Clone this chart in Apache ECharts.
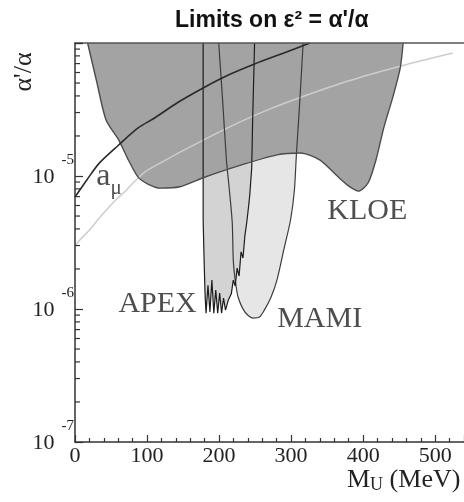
<!DOCTYPE html>
<html>
<head>
<meta charset="utf-8">
<script src="https://cdn.jsdelivr.net/npm/echarts@6/dist/echarts.min.js"></script>
<style>
html, body { margin: 0; padding: 0; background: #fff; }
#chart { width: 464px; height: 502px; }
</style>
</head>
<body>
<div id="chart"></div>
<script>
// axis ticks
var massTicks = [0, 100, 200, 300, 400, 500];
var decades = [-7, -6, -5, -4];
var labelledDecades = [-7, -6, -5];

// KLOE exclusion (excluded above the curve)
var kloeMass  = [17.5, 29.6, 43.1, 60.6, 74.1, 87.6, 101.1, 118.6, 145.6, 177.9, 222.4, 280.3, 312.7, 339.6, 366.6, 380.1, 393.5, 407.0, 417.8, 428.6, 442.0, 451.5, 455.5];
var kloeLimit = [1.0e-4, 5.27e-5, 2.64e-5, 1.87e-5, 1.32e-5, 9.8e-6, 8.7e-6, 8.1e-6, 8.3e-6, 9.7e-6, 1.17e-5, 1.44e-5, 1.49e-5, 1.32e-5, 9.7e-6, 8.4e-6, 7.7e-6, 8.9e-6, 1.32e-5, 2.30e-5, 4.06e-5, 6.49e-5, 1.0e-4];

// MAMI exclusion
var mamiMass  = [199.5, 204.9, 210.2, 214.3, 218.3, 219.7, 222.4, 226.4, 235.8, 246.6, 256.1, 262.8, 272.2, 280.3, 289.8, 299.2, 304.6, 307.3, 311.3, 316.7];
var mamiLimit = [1.0e-4, 3.72e-5, 1.32e-5, 7.85e-6, 4.44e-6, 2.33e-6, 1.65e-6, 1.23e-6, 9.5e-7, 8.55e-7, 8.7e-7, 9.8e-7, 1.23e-6, 1.65e-6, 2.78e-6, 4.67e-6, 7.85e-6, 1.44e-5, 3.13e-5, 1.0e-4];

// APEX test run exclusion (spiky)
var apexMass  = [177.9, 177.9, 179.2, 180.6, 181.9, 184.6, 187.3, 190.0, 192.7, 195.4, 198.1, 200.8, 203.5, 206.2, 208.9, 212.9, 217.0, 219.7, 222.4, 225.1, 227.8, 230.5, 233.2, 235.8, 238.5, 241.2, 242.6, 245.3, 246.6, 249.3];
var apexLimit = [1.0e-4, 4.67e-6, 2.33e-6, 1.27e-6, 9.3e-7, 1.51e-6, 9.5e-7, 1.65e-6, 9.3e-7, 1.39e-6, 9.3e-7, 1.32e-6, 9.3e-7, 1.21e-6, 9.8e-7, 1.17e-6, 1.30e-6, 1.65e-6, 1.49e-6, 2.03e-6, 1.77e-6, 2.69e-6, 2.42e-6, 3.54e-6, 4.51e-6, 6.05e-6, 7.19e-6, 1.15e-5, 2.64e-5, 1.0e-4];

// muon g-2 line
var amuMass  = [0, 6.7, 16.2, 33.7, 60.6, 87.6, 110.5, 141.5, 177.9, 212.9, 249.3, 289.8, 326.1];
var amuLimit = [6.95e-6, 7.85e-6, 9.3e-6, 1.25e-5, 1.71e-5, 2.30e-5, 2.73e-5, 3.54e-5, 4.59e-5, 5.74e-5, 6.95e-5, 8.41e-5, 1.0e-4];

// light grey curve
var lightMass  = [0, 6.7, 20.2, 33.7, 53.9, 71.4, 87.6, 101.1, 191.4, 266.8, 370.6, 442.0, 524.3];
var lightLimit = [2.98e-6, 3.30e-6, 3.93e-6, 4.83e-6, 6.38e-6, 7.85e-6, 9.66e-6, 1.11e-5, 2.03e-5, 3.13e-5, 5.00e-5, 6.49e-5, 8.41e-5];

// text annotations
var noteText  = ['APEX', 'MAMI', 'KLOE', '{a|a}{m|μ}'];
var noteMass  = [114.6, 339.6, 405.7, 47.2];
var noteLimit = [1.09e-6, 8.4e-7, 5.45e-6, 9.3e-6];

function zip(xs, ys) {
    return xs.map(function (x, i) { return [x, ys[i]]; });
}

// log minor ticks 2..9 per decade
var minorTicks = [];
decades.slice(0, -1).forEach(function (d) {
    for (var m = 2; m <= 9; m++) minorTicks.push([0, m * Math.pow(10, d)]);
});

var serif = '"Liberation Serif", "DejaVu Serif", serif';
var ink = '#222';

var chart = echarts.init(document.getElementById('chart'));

function fill(data, color) {
    return {
        type: 'line', data: data, symbol: 'none', smooth: 0.25, silent: true,
        lineStyle: { width: 0 },
        areaStyle: { color: color, opacity: 1, origin: 'end' }
    };
}
function edge(data, color, width, smooth) {
    return {
        type: 'line', data: data, symbol: 'none', smooth: smooth, silent: true,
        lineStyle: { color: color, width: width }
    };
}

var option = {
    animation: false,
    backgroundColor: '#fff',
    title: {
        text: '{n|Limits on }{b|ε² = α\'/α}',
        left: 170, top: 4,
        textStyle: {
            rich: {
                n: { fontFamily: '"Liberation Sans", Arial, sans-serif', fontSize: 23, color: '#111' },
                b: { fontFamily: '"Liberation Sans", Arial, sans-serif', fontSize: 23, fontWeight: 'bold', color: '#111' }
            }
        }
    },
    grid: { left: 75, top: 43, width: 401, height: 399 },
    xAxis: [{
        type: 'value', min: 0, max: 540, interval: 100, z: 10,
        axisLine: { lineStyle: { color: '#333', width: 1.5 } },
        axisTick: { inside: true, length: 7, lineStyle: { color: '#333', width: 1.2 } },
        minorTick: { show: true, splitNumber: 5, length: 4, lineStyle: { color: '#333', width: 1.2 } },
        splitLine: { show: false },
        axisLabel: {
            showMaxLabel: false, margin: 3,
            fontFamily: serif, fontSize: 22, color: ink,
            formatter: function (v) { return massTicks.indexOf(v) >= 0 ? String(v) : ''; }
        }
    }, {
        type: 'value', position: 'top', min: 0, max: 540, z: 10,
        axisLine: { show: true, lineStyle: { color: '#555', width: 1.5 } },
        axisTick: { show: false }, axisLabel: { show: false }, splitLine: { show: false }
    }],
    yAxis: {
        type: 'log', logBase: 10, min: 1e-7, max: 1e-4, z: 10,
        axisLine: { show: true, lineStyle: { color: '#333', width: 1.5 } },
        axisTick: { inside: true, length: 8, lineStyle: { color: '#333', width: 1.2 } },
        splitLine: { show: false },
        axisLabel: {
            margin: 1,
            formatter: function (v) {
                var e = Math.round(Math.log10(v));
                if (labelledDecades.indexOf(e) < 0) return '';
                return '{b|10}{s|' + e + '}';
            },
            rich: {
                b: { fontFamily: serif, fontSize: 22, color: ink, lineHeight: 46, verticalAlign: 'top', padding: [13, 0, 0, 0] },
                s: { fontFamily: serif, fontSize: 15, color: ink, lineHeight: 16, verticalAlign: 'top', padding: [0, 0, 0, 7] }
            }
        }
    },
    graphic: [{
        type: 'text', x: 24, y: 72, rotation: Math.PI / 2,
        style: { text: 'α\'/α', font: '26px ' + serif, fill: ink, align: 'center', verticalAlign: 'middle' }
    }, {
        type: 'text', x: 347, y: 467,
        style: {
            text: '{m|M}{u|U}{m| (MeV)}',
            rich: {
                m: { fontFamily: serif, fontSize: 26, fill: ink, lineHeight: 27, verticalAlign: 'top' },
                u: { fontFamily: serif, fontSize: 18, fill: ink, lineHeight: 18, verticalAlign: 'bottom', padding: [10, 0, 0, 0] }
            }
        }
    }],
    series: [
        fill(zip(mamiMass, mamiLimit), '#e6e6e6'),
        Object.assign(fill(zip(apexMass, apexLimit), '#d3d3d3'), { smooth: false }),
        fill(zip(kloeMass, kloeLimit), '#a3a3a3'),
        edge(zip(lightMass, lightLimit), '#cdcdcd', 1.5, 0.3),
        edge(zip(mamiMass, mamiLimit), '#3c3c3c', 1.2, 0.25),
        edge(zip(apexMass, apexLimit), '#1c1c1c', 1.2, false),
        edge(zip(kloeMass, kloeLimit), '#4c4c4c', 1.4, 0.25),
        edge(zip(amuMass, amuLimit), '#2a2a2a', 1.6, 0.3),
        {
            type: 'custom', silent: true, data: minorTicks, z: 11,
            renderItem: function (params, api) {
                var p = api.coord([api.value(0), api.value(1)]);
                return {
                    type: 'line',
                    shape: { x1: p[0], y1: p[1], x2: p[0] + 5, y2: p[1] },
                    style: { stroke: '#333', lineWidth: 1.2 }
                };
            }
        },
        {
            type: 'scatter', silent: true, symbolSize: 0,
            data: noteText.map(function (t, i) { return { value: [noteMass[i], noteLimit[i]], name: t }; }),
            label: {
                show: true, position: 'inside',
                formatter: function (p) { return p.name; },
                fontFamily: serif, fontSize: 30, color: ink,
                rich: {
                    a: { fontFamily: serif, fontSize: 32, color: ink, lineHeight: 40, verticalAlign: 'top' },
                    m: { fontFamily: serif, fontSize: 21, color: ink, lineHeight: 22, verticalAlign: 'top', padding: [18, 0, 0, 0] }
                }
            }
        }
    ]
};

chart.setOption(option);

window.addEventListener('resize', function () {
    chart.resize();
});
</script>
</body>
</html>
